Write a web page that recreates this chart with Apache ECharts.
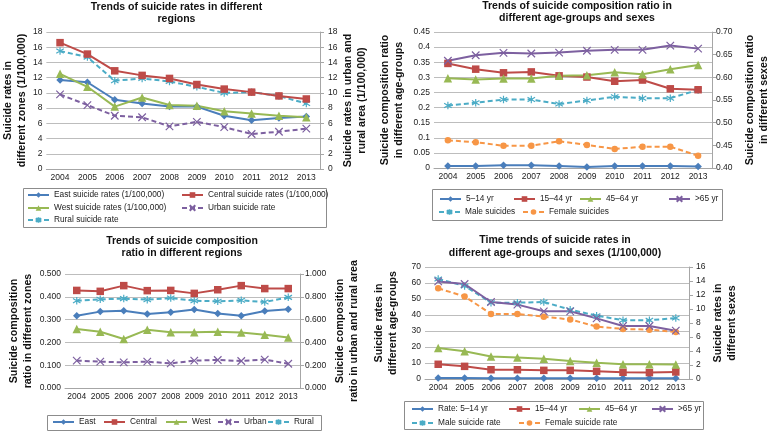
<!DOCTYPE html>
<html>
<head>
<meta charset="utf-8">
<title>Suicide trends 2004-2013</title>
<script src="https://cdn.jsdelivr.net/npm/echarts@6.0.0/dist/echarts.min.js"></script>
<style>
	html, body { margin: 0; padding: 0; background: #fff; }
	#chart { width: 772px; height: 431px; }
</style>
</head>
<body>
<div id="chart"></div>
<script>
var years = ['2004', '2005', '2006', '2007', '2008', '2009', '2010', '2011', '2012', '2013'];

// top left: rates by region (1/100,000)
var eastRate = [11.7, 11.4, 9.1, 8.6, 8.2, 8.2, 7.0, 6.4, 6.7, 6.9];
var centralRate = [16.6, 15.1, 12.9, 12.3, 11.9, 11.1, 10.5, 10.1, 9.6, 9.2];
var westRate = [12.5, 10.8, 8.2, 9.4, 8.4, 8.3, 7.6, 7.3, 7.0, 6.8];
var urbanRate = [9.8, 8.4, 7.0, 6.8, 5.6, 6.2, 5.5, 4.6, 4.9, 5.3];
var ruralRate = [15.5, 14.7, 11.6, 11.9, 11.5, 10.8, 10.0, 10.1, 9.6, 8.6];

// top right: composition ratio by age group and sex
var age514Ratio = [0.007, 0.007, 0.009, 0.009, 0.007, 0.003, 0.007, 0.007, 0.007, 0.005];
var age1544Ratio = [0.346, 0.327, 0.315, 0.318, 0.305, 0.301, 0.287, 0.291, 0.262, 0.259];
var age4564Ratio = [0.297, 0.293, 0.296, 0.296, 0.305, 0.307, 0.317, 0.310, 0.327, 0.341];
var age65Ratio = [0.355, 0.373, 0.381, 0.379, 0.382, 0.388, 0.391, 0.391, 0.405, 0.395];
var maleRatio = [0.538, 0.544, 0.551, 0.551, 0.541, 0.549, 0.557, 0.554, 0.554, 0.572];
var femaleRatio = [0.461, 0.457, 0.449, 0.449, 0.459, 0.451, 0.442, 0.447, 0.447, 0.427];

// bottom left: composition ratio by region
var eastShare = [0.317, 0.335, 0.339, 0.325, 0.332, 0.344, 0.327, 0.317, 0.338, 0.345];
var centralShare = [0.428, 0.424, 0.449, 0.427, 0.428, 0.415, 0.431, 0.449, 0.436, 0.436];
var westShare = [0.259, 0.247, 0.215, 0.256, 0.244, 0.244, 0.247, 0.243, 0.234, 0.221];
var urbanShare = [0.240, 0.231, 0.225, 0.231, 0.216, 0.240, 0.246, 0.237, 0.249, 0.213];
var ruralShare = [0.766, 0.778, 0.784, 0.775, 0.789, 0.766, 0.760, 0.769, 0.754, 0.795];

// bottom right: rates by age group and sex (1/100,000)
var age514Rate = [0.6, 0.6, 0.4, 0.4, 0.4, 0.4, 0.4, 0.4, 0.4, 0.4];
var age1544Rate = [9.2, 7.9, 5.8, 5.8, 5.4, 5.4, 4.8, 4.2, 4.0, 4.4];
var age4564Rate = [19.4, 17.3, 14.0, 13.5, 12.7, 11.3, 10.2, 9.2, 9.2, 9.0];
var age65Rate = [61.0, 59.4, 48.1, 46.5, 42.3, 42.3, 37.9, 33.1, 33.1, 30.2];
var maleRate = [14.3, 13.3, 10.9, 10.9, 11.0, 9.9, 9.05, 8.4, 8.4, 8.7];
var femaleRate = [12.95, 11.8, 9.3, 9.3, 8.9, 8.5, 7.5, 7.15, 7.05, 6.7];

var FONT = 'Liberation Sans, Arial, sans-serif';
var BLUE = '#4a7ebb', RED = '#be4b48', GREEN = '#98b954', PURPLE = '#7d60a0', AQUA = '#4bacc6', ORANGE = '#f79646';
var CROSS = 'path://M0,0L10,10M10,0L0,10';
var STAR = 'path://M5,0L5,10M0,2L10,8M0,8L10,2';

function line(name, data, color, symbol, idx, yIdx, dashed) {
	var size = 7.5;
	if (symbol == 'triangle') size = 8.5;
	if (symbol == 'circle') size = 6.5;
	var s = {
		name: name,
		type: 'line',
		xAxisIndex: idx,
		yAxisIndex: yIdx,
		data: data,
		symbol: symbol,
		symbolSize: size,
		lineStyle: { width: 2, color: color, type: dashed ? [5, 3] : 'solid' },
		itemStyle: { color: color },
		emphasis: { disabled: true }
	};
	if (symbol == CROSS || symbol == STAR) {
		s.itemStyle = { color: color, borderColor: color, borderWidth: 1.2 };
	}
	return s;
}

function xAx(idx) {
	return {
		type: 'category', gridIndex: idx, data: years, boundaryGap: true,
		axisLine: { lineStyle: { color: '#a6a6a6' } },
		axisTick: { length: 3, lineStyle: { color: '#a6a6a6' } },
		axisLabel: { fontSize: 8.5, color: '#222', margin: 4, interval: 0, fontFamily: FONT }
	};
}

function yLeft(idx, min, max, step, name, gap, fmt) {
	return {
		type: 'value', gridIndex: idx, min: min, max: max, interval: step,
		axisLine: { show: false }, axisTick: { show: false },
		splitLine: { lineStyle: { color: '#bdbdbd' } },
		axisLabel: { fontSize: 8.5, color: '#222', margin: 4, formatter: fmt, fontFamily: FONT },
		name: name, nameLocation: 'middle', nameGap: gap,
		nameTextStyle: { fontSize: 10.7, fontWeight: 'bold', color: '#111', lineHeight: 14, fontFamily: FONT }
	};
}

function yRight(idx, min, max, step, name, gap, fmt, margin) {
	return {
		type: 'value', gridIndex: idx, position: 'right', min: min, max: max, interval: step,
		axisLine: { show: true, lineStyle: { color: '#a6a6a6' } },
		axisTick: { show: true, length: 4, lineStyle: { color: '#a6a6a6' } },
		splitLine: { show: false },
		axisLabel: { fontSize: 8.5, color: '#222', margin: margin, formatter: fmt, fontFamily: FONT },
		name: name, nameLocation: 'middle', nameGap: gap,
		nameTextStyle: { fontSize: 10.7, fontWeight: 'bold', color: '#111', lineHeight: 14, fontFamily: FONT }
	};
}

function leg(name, x, y) {
	return {
		data: [name], left: x, top: y - 6, padding: 0,
		itemWidth: 21, itemHeight: 7, selectedMode: false,
		textStyle: { fontSize: 8.3, color: '#222', lineHeight: 12, fontFamily: FONT }
	};
}

function box(x, y, w, h) {
	return { type: 'rect', shape: { x: x, y: y, width: w, height: h }, style: { fill: 'none', stroke: '#8c8c8c', lineWidth: 1 }, silent: true };
}

function title(text, x, y) {
	return {
		text: text, left: x, top: y, padding: 0, textAlign: 'center',
		textStyle: { fontSize: 10.5, fontWeight: 'bold', color: '#111', lineHeight: 12.5, fontFamily: FONT }
	};
}

var fix2 = function (v) { return v.toFixed(2); };
var fix3 = function (v) { return v.toFixed(3); };

var myChart = echarts.init(document.getElementById('chart'));
var option = {
	animation: false,
	textStyle: { fontFamily: FONT },
	title: [
		title('Trends of suicide rates in different\nregions', 176.5, 0.5),
		title('Trends of suicide composition ratio in\ndifferent age-groups and sexes', 577, -0.5),
		title('Trends of suicide composition\nratio in different regions', 182, 234.5),
		title('Time trends of suicide rates in\ndifferent age-groups and sexes (1/100,000)', 555, 234)
	],
	grid: [
		{ left: 45, top: 32, width: 275, height: 137 },
		{ left: 434, top: 32, width: 288, height: 136 },
		{ left: 65, top: 274, width: 235, height: 114 },
		{ left: 425, top: 267, width: 264, height: 112 }
	],
	xAxis: [xAx(0), xAx(1), xAx(2), xAx(3)],
	yAxis: [
		yLeft(0, 0, 18, 2, 'Suicide rates in\ndifferent zones (1/100,000)', 14),
		yRight(0, 0, 18, 2, 'Suicide rates in urban and\nrural area (1/100,000)', 21, null, 8),
		yLeft(1, 0, 0.45, 0.05, 'Suicide composition ratio\nin different age-groups', 28),
		yRight(1, 0.4, 0.7, 0.05, 'Suicide composition ratio\nin different sexes', 31, fix2, 4),
		yLeft(2, 0, 0.5, 0.1, 'Suicide composition\nratio in different zones', 30, fix3),
		yRight(2, 0, 1, 0.2, 'Suicide composition\nratio in urban and rural area', 33, fix3, 5),
		yLeft(3, 0, 70, 10, 'Suicide rates in\ndifferent age-groups', 25),
		yRight(3, 0, 16, 2, 'Suicide rates in\ndifferent sexes', 22, null, 7)
	],
	legend: [
		leg('East suicide rates (1/100,000)', 27, 195),
		leg('Central suicide rates (1/100,000)', 181, 195),
		leg('West suicide rates (1/100,000)', 27, 208),
		leg('Urban suicide rate', 181, 208),
		leg('Rural suicide rate', 27, 220),

		leg('5–14 yr', 439, 199),
		leg('15–44 yr', 513, 199),
		leg('45–64 yr', 579, 199),
		leg('>65 yr', 668, 199),
		leg('Male suicides', 438, 212),
		leg('Female suicides', 522, 212),

		leg('East', 52, 422),
		leg('Central', 103, 422),
		leg('West', 165, 422),
		leg('Urban', 217, 422),
		leg('Rural', 267, 422),

		leg('Rate: 5–14 yr', 411, 409),
		leg('15–44 yr', 508, 409),
		leg('45–64 yr', 578, 409),
		leg('>65 yr', 651, 409),
		leg('Male suicide rate', 411, 423),
		leg('Female suicide rate', 518, 423)
	],
	graphic: {
		elements: [
			box(23.5, 188.5, 303, 39),
			box(432.5, 189.5, 290, 31),
			box(47.5, 415.5, 274, 15),
			box(404.5, 401.5, 299, 28)
		]
	},
	series: [
		line('Rural suicide rate', ruralRate, AQUA, STAR, 0, 1, true),
		line('Urban suicide rate', urbanRate, PURPLE, CROSS, 0, 1, true),
		line('East suicide rates (1/100,000)', eastRate, BLUE, 'diamond', 0, 0),
		line('West suicide rates (1/100,000)', westRate, GREEN, 'triangle', 0, 0),
		line('Central suicide rates (1/100,000)', centralRate, RED, 'rect', 0, 0),

		line('Male suicides', maleRatio, AQUA, STAR, 1, 3, true),
		line('Female suicides', femaleRatio, ORANGE, 'circle', 1, 3, true),
		line('5–14 yr', age514Ratio, BLUE, 'diamond', 1, 2),
		line('15–44 yr', age1544Ratio, RED, 'rect', 1, 2),
		line('45–64 yr', age4564Ratio, GREEN, 'triangle', 1, 2),
		line('>65 yr', age65Ratio, PURPLE, CROSS, 1, 2),

		line('Urban', urbanShare, PURPLE, CROSS, 2, 5, true),
		line('Rural', ruralShare, AQUA, STAR, 2, 5, true),
		line('East', eastShare, BLUE, 'diamond', 2, 4),
		line('Central', centralShare, RED, 'rect', 2, 4),
		line('West', westShare, GREEN, 'triangle', 2, 4),

		line('Rate: 5–14 yr', age514Rate, BLUE, 'diamond', 3, 6),
		line('15–44 yr', age1544Rate, RED, 'rect', 3, 6),
		line('45–64 yr', age4564Rate, GREEN, 'triangle', 3, 6),
		line('Female suicide rate', femaleRate, ORANGE, 'circle', 3, 7, true),
		line('Male suicide rate', maleRate, AQUA, STAR, 3, 7, true),
		line('>65 yr', age65Rate, PURPLE, CROSS, 3, 6)
	]
};
myChart.setOption(option);
</script>
</body>
</html>
